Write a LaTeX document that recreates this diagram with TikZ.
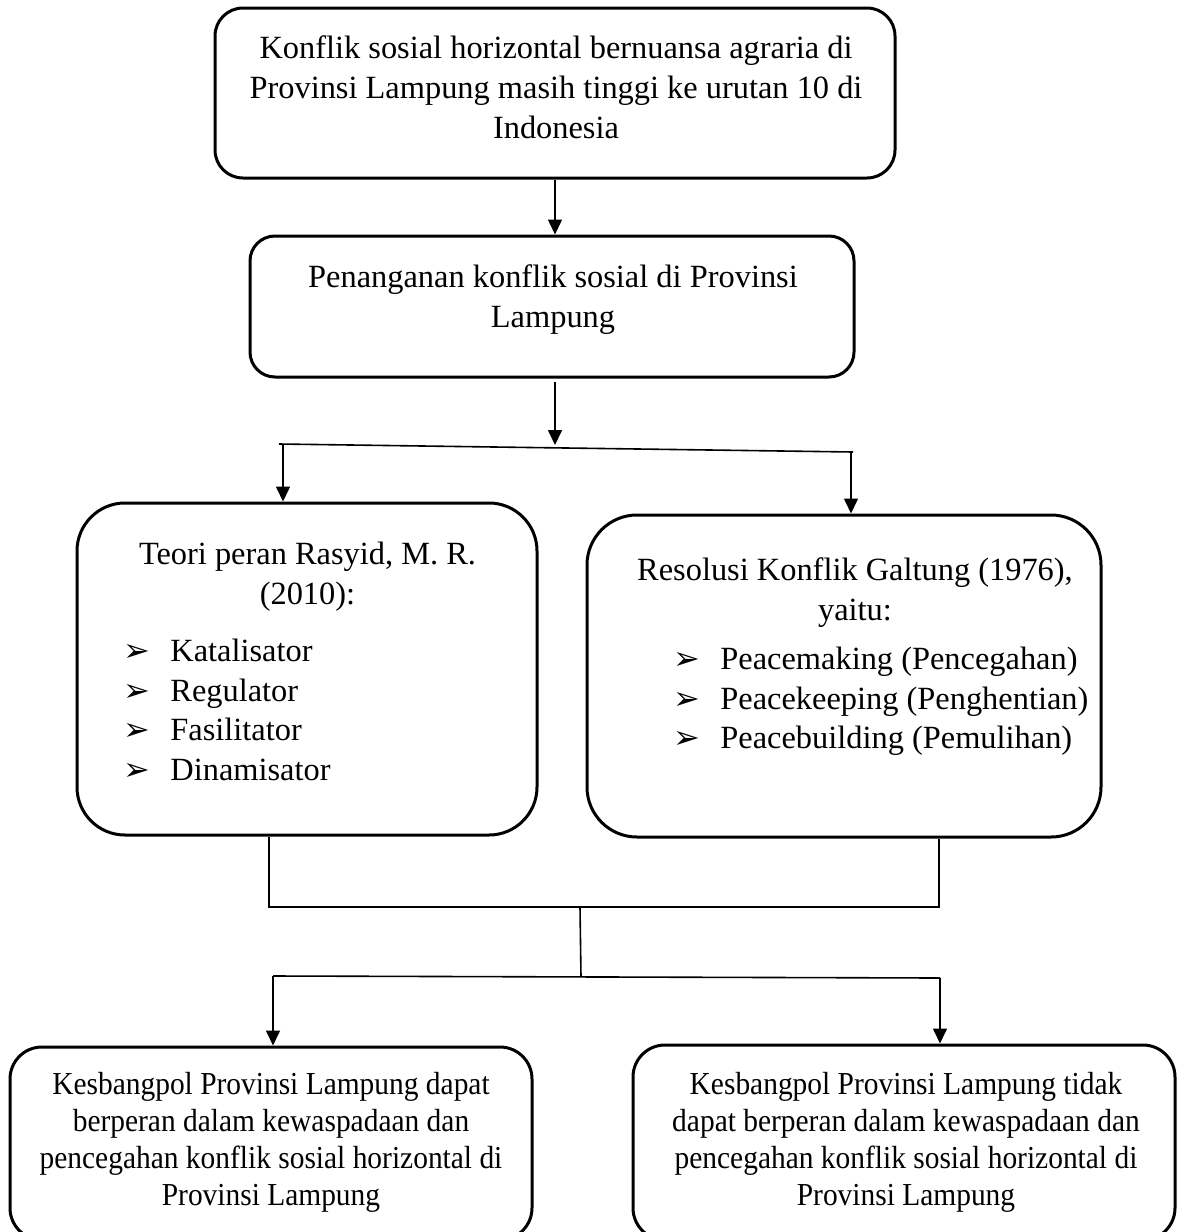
\documentclass[tikz,border=0pt]{standalone}
\usepackage{fontspec}
\setmainfont{Liberation Serif}
\newfontfamily\condfont[FakeStretch=0.92]{Liberation Serif}
\newfontfamily\symfont{DejaVu Sans}
\usetikzlibrary{arrows.meta}
\tikzset{
  box/.style={draw, line width=1.5pt, inner sep=0pt},
  conn/.style={draw, line width=0.8pt},
  arr/.style={conn, -{Triangle[width=7pt,length=7.5pt]}},
  txt/.style={inner sep=0pt, align=center, font=\fontsize{16.2}{20}\selectfont},
  lst/.style={inner sep=0pt, align=left, font=\fontsize{16.2}{19.7}\selectfont},
  btxt/.style={inner sep=0pt, align=center, font=\condfont\fontsize{16}{18.5}\selectfont},
}
\newcommand{\blt}{\makebox[22.5pt][l]{\hspace*{-1pt}\symfont\fontsize{16}{16}\selectfont ➢}}
\begin{document}
\begin{tikzpicture}[x=0.5pt,y=-0.5pt]
\useasboundingbox (0,0) rectangle (1181,1232);
% boxes
\node[box, rounded corners=14pt, minimum width=340pt, minimum height=85pt] (b1) at (555,93) {};
\node[box, rounded corners=12.5pt, minimum width=302pt, minimum height=70.5pt] (b2) at (552,306.5) {};
\node[box, rounded corners=24pt, minimum width=230pt, minimum height=166pt] (b3) at (307,669) {};
\node[box, rounded corners=25pt, minimum width=257pt, minimum height=161pt] (b4) at (844,676) {};
\node[box, rounded corners=16pt, minimum width=261pt, minimum height=96.5pt] (b5) at (271,1143.5) {};
\node[box, rounded corners=16pt, minimum width=271pt, minimum height=97.5pt] (b6) at (904,1142.5) {};
% texts
\node[txt, anchor=north] (t1) at (556,30) {\strut Konflik sosial horizontal bernuansa agraria di\\Provinsi Lampung masih tinggi ke urutan 10 di\\Indonesia};
\node[txt, anchor=north] (t2) at (553,259) {\strut Penanganan konflik sosial di Provinsi\\Lampung};
\node[txt, anchor=north] (t3) at (307.5,536) {\strut Teori peran Rasyid, M. R.\\(2010):};
\node[lst, anchor=north west] (l3) at (125,634) {\strut\blt Katalisator\\\blt Regulator\\\blt Fasilitator\\\blt Dinamisator};
\node[txt, anchor=north] (t4) at (855,552) {\strut Resolusi Konflik Galtung (1976),\\yaitu:};
\node[lst, anchor=north west] (l4) at (675,642) {\strut\blt Peacemaking (Pencegahan)\\\blt Peacekeeping (Penghentian)\\\blt Peacebuilding (Pemulihan)};
\node[btxt, anchor=north] (t5) at (271,1068) {\strut Kesbangpol Provinsi Lampung dapat\\berperan dalam kewaspadaan dan\\pencegahan konflik sosial horizontal di\\Provinsi Lampung};
\node[btxt, anchor=north] (t6) at (906,1068) {\strut Kesbangpol Provinsi Lampung tidak\\dapat berperan dalam kewaspadaan dan\\pencegahan konflik sosial horizontal di\\Provinsi Lampung};
% connectors
\coordinate (a1) at (555,178);
\draw[arr] (a1 |- b1.south) -- (a1 |- b2.north);
\coordinate (a2s) at (555,382);
\coordinate (a2e) at (555,445);
\draw[arr] (a2s) -- (a2e);
\coordinate (sl) at (279,444);
\coordinate (sr) at (853,452);
\draw[conn] (sl) -- (sr);
\coordinate (l1) at (283,445);
\draw[arr] (l1) -- (l1 |- b3.north);
\coordinate (r1) at (851,452);
\draw[arr] (r1) -- (r1 |- b4.north);
\coordinate (j1) at (269,907);
\coordinate (j2) at (939,907);
\draw[conn] (j1 |- b3.south) -- (j1) -- (j2) -- (j2 |- b4.south);
\coordinate (m1) at (580,907);
\coordinate (m2) at (581,977);
\draw[conn] (m1) -- (m2);
\coordinate (k1) at (273,976);
\coordinate (k2) at (940,978);
\draw[conn] (k1) -- (k2);
\draw[arr] (k1) -- (k1 |- b5.north);
\draw[arr] (k2) -- (k2 |- b6.north);
\end{tikzpicture}
\end{document}
